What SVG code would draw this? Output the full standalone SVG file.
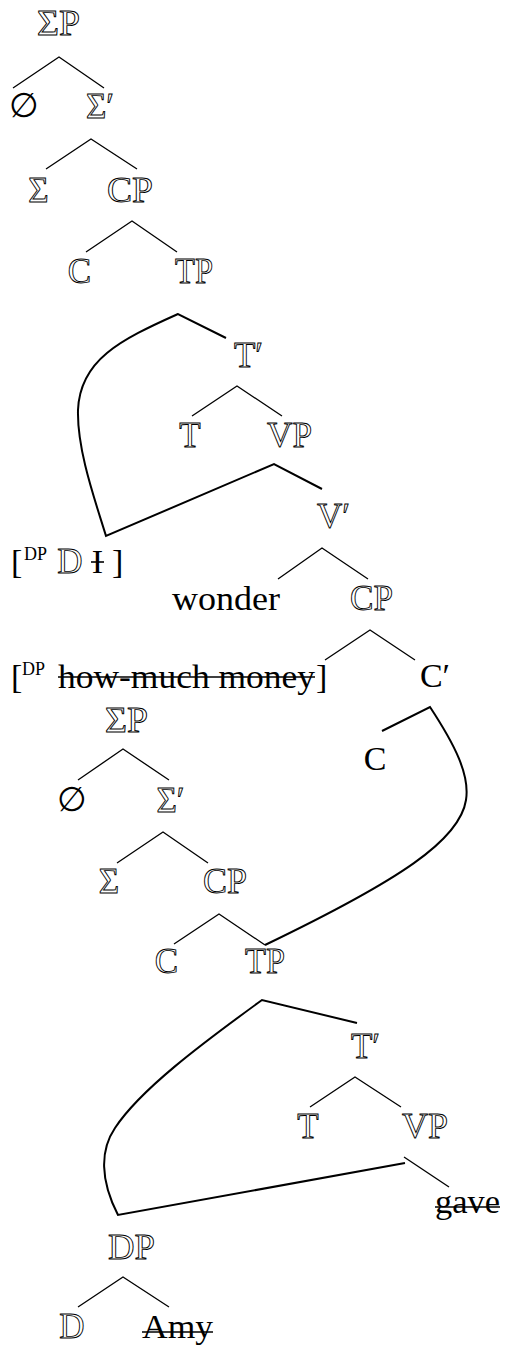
<svg xmlns="http://www.w3.org/2000/svg" width="508" height="1351" viewBox="0 0 508 1351">
<style>
.bb{font-family:"Liberation Serif",serif;font-size:35px;fill:none;stroke:#000;stroke-width:0.9;text-anchor:middle}
.rg{font-family:"Liberation Serif",serif;font-size:34px;fill:#000}
.sup{font-family:"Liberation Serif",serif;font-size:18px;fill:#000}
.mid{text-anchor:middle}
.tl{stroke:#000;stroke-width:1.3;fill:none}
.mv{stroke:#000;stroke-width:2;fill:none;stroke-linejoin:miter}
.st{stroke:#000;stroke-width:1.6}
</style>
<rect width="508" height="1351" fill="#fff"/>
<g id="connectors">
<path class="tl" d="M13,88 L59,57 L104,88"/>
<path class="tl" d="M46,169 L91,139 L137,169"/>
<path class="tl" d="M86,252 L132,221 L177,252"/>
<path class="mv" d="M226,338 L178,314 C120,340 80,360 78,410 C77,450 95,500 106,536 L274,464 L322,489"/>
<path class="tl" d="M192,416 L237,386 L282,416"/>
<path class="tl" d="M278,579 L322,548 L368,579"/>
<path class="tl" d="M325,660 L370,630 L415,660"/>
<path class="mv" d="M382,731 L430,707 C455,745 470,775 466,800 C460,840 400,880 265,945"/>
<path class="tl" d="M78,780 L123,749 L169,780"/>
<path class="tl" d="M117,863 L163,832 L208,863"/>
<path class="tl" d="M174,944 L219,914 L265,945"/>
<path class="mv" d="M357,1023 L262,1000 C200,1045 140,1090 115,1128 C100,1150 100,1180 118,1215 L405,1163"/>
<path class="tl" d="M310,1107 L355,1077 L401,1107"/>
<path class="tl" d="M404,1157 L449,1187"/>
<path class="tl" d="M78,1307 L123,1277 L169,1307"/>
</g>
<g id="n-SigmaP1"><text class="bb" x="58.5" y="35" textLength="43" lengthAdjust="spacingAndGlyphs">ΣP</text></g>
<g id="n-null1"><text class="rg mid" x="24" y="117">∅</text></g>
<g id="n-SigmaBar1"><text class="bb" x="100" y="118">Σ′</text></g>
<g id="n-Sigma1"><text class="bb" x="38.5" y="202">Σ</text></g>
<g id="n-CP1"><text class="bb" x="130" y="202" textLength="46" lengthAdjust="spacingAndGlyphs">CP</text></g>
<g id="n-C1"><text class="bb" x="79.5" y="283">C</text></g>
<g id="n-TP1"><text class="bb" x="194" y="283" textLength="38" lengthAdjust="spacingAndGlyphs">TP</text></g>
<g id="n-TBar1"><text class="bb" x="248.5" y="367">T′</text></g>
<g id="n-T1"><text class="bb" x="190" y="447">T</text></g>
<g id="n-VP1"><text class="bb" x="289.5" y="447" textLength="45" lengthAdjust="spacingAndGlyphs">VP</text></g>
<g id="n-VBar1"><text class="bb" x="333.5" y="528">V′</text></g>
<g id="n-DP-I">
<text class="rg" x="11" y="573">[</text>
<text class="sup" x="24" y="560">DP</text>
<text class="bb" x="70" y="573">D</text>
<text class="rg mid" x="97.5" y="573">I</text>
<line class="st" x1="91" y1="562" x2="104" y2="562"/>
<text class="rg" x="112" y="573">]</text>
</g>
<g id="n-wonder"><text class="rg" x="172" y="610" textLength="108" lengthAdjust="spacingAndGlyphs">wonder</text></g>
<g id="n-CP2"><text class="bb" x="371.5" y="610" textLength="43" lengthAdjust="spacingAndGlyphs">CP</text></g>
<g id="n-DP-wh">
<text class="rg" x="11" y="688">[</text>
<text class="sup" x="22" y="675">DP</text>
<text class="rg" x="58" y="688" textLength="257" lengthAdjust="spacingAndGlyphs">how-much money</text>
<line class="st" x1="58" y1="677" x2="315" y2="677"/>
<text class="rg" x="316" y="688">]</text>
</g>
<g id="n-CBar"><text class="rg mid" x="435" y="687">C′</text></g>
<g id="n-C-reg"><text class="rg mid" x="375" y="770">C</text></g>
<g id="n-SigmaP2"><text class="bb" x="126.5" y="732" textLength="43" lengthAdjust="spacingAndGlyphs">ΣP</text></g>
<g id="n-null2"><text class="rg mid" x="71.5" y="811">∅</text></g>
<g id="n-SigmaBar2"><text class="bb" x="170.5" y="812">Σ′</text></g>
<g id="n-Sigma2"><text class="bb" x="109" y="893">Σ</text></g>
<g id="n-CP3"><text class="bb" x="225" y="893" textLength="44" lengthAdjust="spacingAndGlyphs">CP</text></g>
<g id="n-C2"><text class="bb" x="166.5" y="973">C</text></g>
<g id="n-TP2"><text class="bb" x="265" y="973" textLength="40" lengthAdjust="spacingAndGlyphs">TP</text></g>
<g id="n-TBar2"><text class="bb" x="365.5" y="1058">T′</text></g>
<g id="n-T2"><text class="bb" x="308" y="1138">T</text></g>
<g id="n-VP2"><text class="bb" x="425" y="1138" textLength="46" lengthAdjust="spacingAndGlyphs">VP</text></g>
<g id="n-gave">
<text class="rg" x="435" y="1213" textLength="65" lengthAdjust="spacingAndGlyphs">gave</text>
<line class="st" x1="435" y1="1207" x2="500" y2="1207"/>
</g>
<g id="n-DP"><text class="bb" x="131.5" y="1259" textLength="47" lengthAdjust="spacingAndGlyphs">DP</text></g>
<g id="n-D"><text class="bb" x="72" y="1338">D</text></g>
<g id="n-Amy">
<text class="rg" x="142" y="1338" textLength="71" lengthAdjust="spacingAndGlyphs">Amy</text>
<line class="st" x1="142" y1="1332" x2="213" y2="1332"/>
</g>
</svg>
